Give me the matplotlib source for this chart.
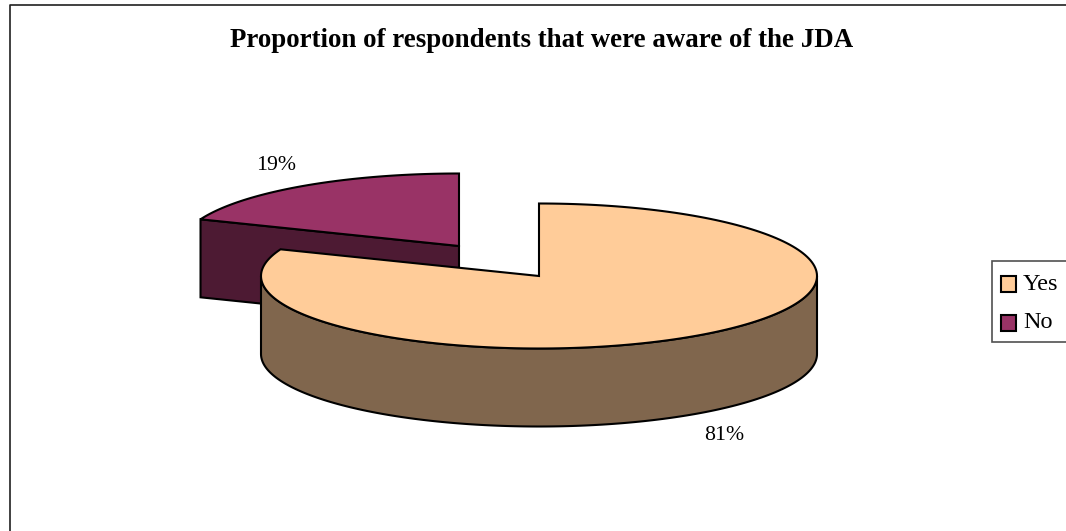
import matplotlib
matplotlib.use('Agg')
import matplotlib.pyplot as plt
from matplotlib.patches import Polygon, Rectangle
import numpy as np

plt.rc('font', family=['Liberation Serif', 'DejaVu Serif'])

title = 'Proportion of respondents that were aware of the JDA'
labels = ['Yes', 'No']
shares = [81, 19]
face_colors = ['#FFCC99', '#993366']
side_colors = ['#80664D', '#4D1A33']

# pie geometry in pixels
rx, ry = 278, 72.5
depth = 78
centres = [(539, 276), (459, 246)]
lw = 1.5


def rim(cx, cy, a0, a1):
    # angles clockwise from 12 o'clock
    t = np.radians(np.linspace(a0, a1, 200))
    return np.column_stack([cx + rx * np.sin(t), cy - ry * np.cos(t)])


fig = plt.figure(figsize=(10.66, 5.31), dpi=100)
ax = fig.add_axes([0, 0, 1, 1])
ax.set_xlim(0, 1066)
ax.set_ylim(531, 0)
ax.axis('off')

# chart frame, runs off the right and bottom of the picture
ax.plot([9.5, 9.5, 1066], [531, 4.5, 4.5], color='#202020', lw=1.2, zorder=1)

angle_yes = 360 * shares[0] / sum(shares)

# No slice first, it sits behind
cx, cy = centres[1]
p = rim(cx, cy, angle_yes, 360)
inner = [(p[0][0], p[0][1]), (cx, cy), (cx, cy + depth), (p[0][0], p[0][1] + depth)]
ax.add_patch(Polygon(inner, fc=side_colors[1], ec='black', lw=lw, zorder=2))
ax.add_patch(Polygon(np.vstack([[(cx, cy)], p]), fc=face_colors[1], ec='black', lw=lw, zorder=3))

# Yes slice
cx, cy = centres[0]
front = rim(cx, cy, 90, 270)
wall = np.vstack([front, (front + [0, depth])[::-1]])
ax.add_patch(Polygon(wall, fc=side_colors[0], ec='black', lw=lw, zorder=4))
p = rim(cx, cy, 0, angle_yes)
ax.add_patch(Polygon(np.vstack([[(cx, cy)], p]), fc=face_colors[0], ec='black', lw=lw, zorder=5))

ax.text(541.5, 40.5, title, ha='center', va='center', fontsize=19.4, fontweight='bold')
ax.text(724, 435, f'{shares[0]}%', ha='center', va='center', fontsize=15.7)
ax.text(276, 165, f'{shares[1]}%', ha='center', va='center', fontsize=15.7)

# legend
ax.add_patch(Rectangle((992, 261), 80, 81, fc='white', ec='#505050', lw=1.2, zorder=6))
for lab, col, y in zip(labels, face_colors, [284, 323]):
    ax.add_patch(Rectangle((1001, y - 8), 15, 16, fc=col, ec='black', lw=lw, zorder=7))
    ax.text(1023, y, lab, ha='left', va='center', fontsize=17.5, zorder=7)

fig.savefig('out.png', dpi=100)
